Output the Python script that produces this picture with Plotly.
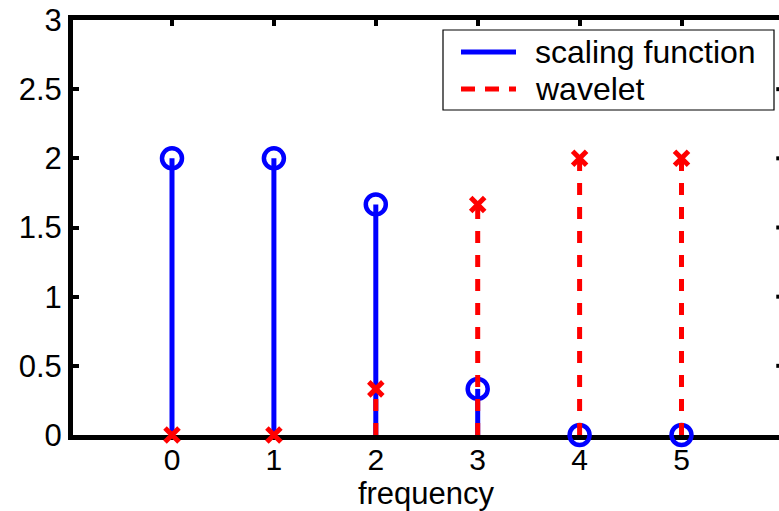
import plotly.graph_objects as go

freq = [0, 1, 2, 3, 4, 5]
scaling = [2, 2, 5/3, 1/3, 0, 0]
wavelet = [0, 0, 1/3, 5/3, 2, 2]
x_ticks = [0, 1, 2, 3, 4, 5]
y_ticks = [0, 0.5, 1, 1.5, 2, 2.5, 3]
y_tick_text = ["0", "0.5", "1", "1.5", "2", "2.5", "3"]
legend_names = ["scaling function", "wavelet"]

BLUE = "#0000ff"
RED = "#ff0000"
FONT = "Liberation Sans, Arial, sans-serif"

W, H = 779, 511
ML, MT, MB = 73, 20, 76
PW, PH = W - ML, H - MT - MB


def stems(xs, ys):
    sx, sy = [], []
    for a, b in zip(xs, ys):
        sx += [a, a, None]
        sy += [0, b, None]
    return sx, sy


def px(xp):
    return (xp - ML) / PW


def py(yp):
    return (H - MB - yp) / PH


fig = go.Figure()
sx, sy = stems(freq, scaling)
fig.add_trace(go.Scatter(x=sx, y=sy, mode="lines", name=legend_names[0], showlegend=False,
                         line=dict(color=BLUE, width=5), cliponaxis=False))
fig.add_trace(go.Scatter(x=freq, y=scaling, mode="markers", showlegend=False,
                         marker=dict(symbol="circle-open", size=20, color=BLUE,
                                     line=dict(color=BLUE, width=4.5)),
                         cliponaxis=False))
wx, wy = stems(freq, wavelet)
fig.add_trace(go.Scatter(x=wx, y=wy, mode="lines", name=legend_names[1], showlegend=False,
                         line=dict(color=RED, width=5, dash="12px,12px"),
                         cliponaxis=False))
fig.add_trace(go.Scatter(x=freq, y=wavelet, mode="markers", showlegend=False,
                         marker=dict(symbol="x-thin-open", size=14, color=RED,
                                     line=dict(color=RED, width=5)),
                         cliponaxis=False))

# right-side inward ticks (the right spine lies just outside the window)
for yt in y_ticks[1:-1]:
    fig.add_shape(type="line", xref="x", yref="y", x0=5.93, x1=6.05, y0=yt, y1=yt,
                  line=dict(color="black", width=4))

# legend box drawn by hand
fig.add_shape(type="rect", xref="paper", yref="paper",
              x0=px(443), x1=px(774), y0=py(110), y1=py(30),
              line=dict(color="black", width=1.2), fillcolor="white", layer="above")
fig.add_shape(type="line", xref="paper", yref="paper",
              x0=px(461), x1=px(516), y0=py(52), y1=py(52),
              line=dict(color=BLUE, width=5), layer="above")
fig.add_shape(type="line", xref="paper", yref="paper",
              x0=px(461), x1=px(516), y0=py(89), y1=py(89),
              line=dict(color=RED, width=5, dash="14px,10px"), layer="above")
for name, yp in zip(legend_names, [52, 89]):
    fig.add_annotation(xref="paper", yref="paper", x=px(533), y=py(yp),
                       xanchor="left", yanchor="middle", text=name, showarrow=False,
                       font=dict(family=FONT, size=32, color="black"))

fig.update_layout(
    width=W, height=H,
    margin=dict(l=ML, r=0, t=MT, b=MB),
    paper_bgcolor="white", plot_bgcolor="white",
    font=dict(family=FONT, size=31, color="black"),
    showlegend=False,
    xaxis=dict(range=[-(172 - ML) / 101.9, -(172 - ML) / 101.9 + PW / 101.9],
               tickvals=x_ticks, ticktext=[str(v) for v in x_ticks],
               showgrid=False, zeroline=False, showline=True, linecolor="black",
               linewidth=5, mirror="ticks", ticks="inside", ticklen=6, tickwidth=4,
               tickcolor="black", layer="below traces", ticklabelstandoff=-6,
               title=dict(text="frequency", font=dict(family=FONT, size=31), standoff=4),
               tickfont=dict(family=FONT, size=30)),
    yaxis=dict(range=[0, 3], tickvals=y_ticks, ticktext=y_tick_text,
               showgrid=False, zeroline=False, showline=True, linecolor="black",
               linewidth=5, ticks="inside", ticklen=6, tickwidth=4, tickcolor="black",
               layer="below traces", tickfont=dict(family=FONT, size=31)),
)

fig.write_html("out.html")
